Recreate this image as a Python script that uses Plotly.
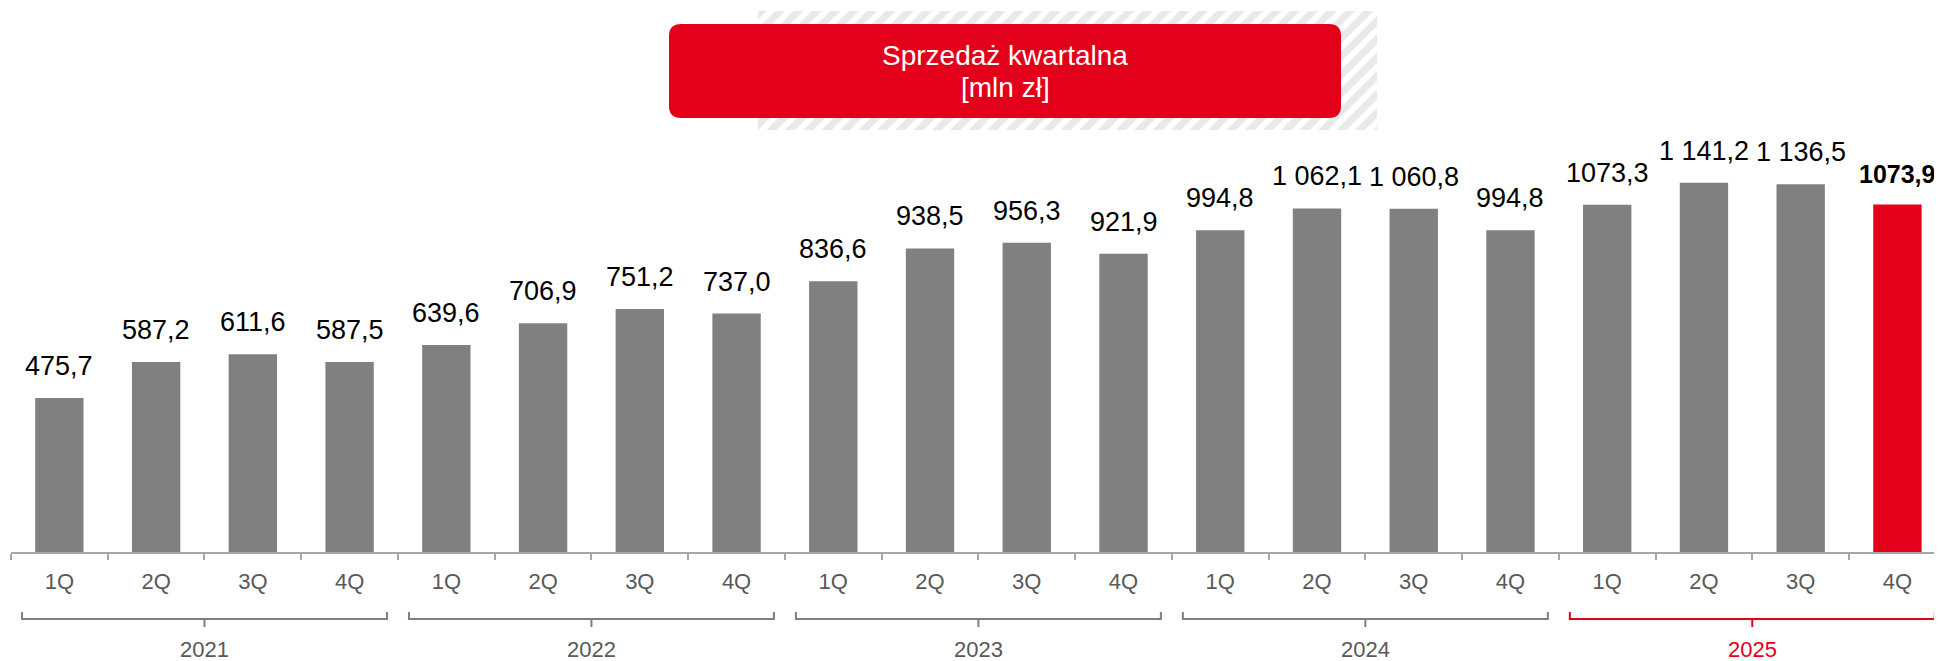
import plotly.graph_objects as go

# ---------------- data ----------------
years = ["2021", "2022", "2023", "2024", "2025"]
quarters = ["1Q", "2Q", "3Q", "4Q"]
sales = [475.7, 587.2, 611.6, 587.5,
         639.6, 706.9, 751.2, 737.0,
         836.6, 938.5, 956.3, 921.9,
         994.8, 1062.1, 1060.8, 994.8,
         1073.3, 1141.2, 1136.5, 1073.9]
value_labels = ["475,7", "587,2", "611,6", "587,5",
                "639,6", "706,9", "751,2", "737,0",
                "836,6", "938,5", "956,3", "921,9",
                "994,8", "1 062,1", "1 060,8", "994,8",
                "1073,3", "1 141,2", "1 136,5", "1073,9"]
title_lines = ["Sprzedaż kwartalna", "[mln zł]"]

# ---------------- layout geometry ----------------
OFF = 8                      # default page (body) margin of the html page
W, H = 1942 - OFF, 661 - OFF
AXIS_Y = 552                 # screen y of the category axis
ML, MR, MT = 11 - OFF, 0, 0
MB = H - (AXIS_Y - OFF)
PW = W - ML - MR
PH = H - MT - MB
CAT = 96.74                  # px per category
PXU = 0.3235                 # px per unit of value

GRAY = "#808080"
RED = "#e2001a"
AXIS = "#a6a6a6"
TXT = "#595959"
FONT = "Liberation Sans, Arial, sans-serif"


def px(X):
    """screen x -> paper x"""
    return (X - OFF - ML) / PW


def py(Y):
    """screen y -> paper y"""
    return (AXIS_Y - Y) / PH


xs = list(range(len(sales)))
tick_text = [q for _ in years for q in quarters]
colors = [GRAY] * (len(sales) - 1) + [RED]

fig = go.Figure()

# hatched background behind the title box (overlay axes in screen pixels)
hx0, hx1, hy0, hy1 = 758, 1377, 11, 130
fig.add_trace(go.Scatter(
    x=[hx0, hx1, hx1, hx0, hx0], y=[hy0, hy0, hy1, hy1, hy0],
    xaxis="x2", yaxis="y2", mode="lines", line=dict(width=0),
    fill="toself",
    fillpattern=dict(shape="/", fgcolor="#d4d4d4", bgcolor="white",
                     size=13, solidity=0.55),
    hoverinfo="skip", showlegend=False))

fig.add_trace(go.Bar(
    x=xs, y=sales, width=0.5,
    marker=dict(color=colors, line=dict(width=0)),
    hoverinfo="skip", showlegend=False))

annotations = []
for i, (v, lab) in enumerate(zip(sales, value_labels)):
    last = i == len(sales) - 1
    annotations.append(dict(
        x=i, y=v, xref="x", yref="y", showarrow=False,
        text=f"<b>{lab}</b>" if last else lab,
        yanchor="bottom", xanchor="center", yshift=15,
        font=dict(family=FONT, size=25 if last else 27, color="black")))

shapes = []
gap = 11 / CAT
y_line, y_hook, y_tick = py(619), py(612), py(627)
for k, yr in enumerate(years):
    c = RED if k == len(years) - 1 else "#7f7f7f"
    x0 = 4 * k - 0.5 + gap
    x1 = 4 * k + 3.5 - gap
    xc = 4 * k + 1.5
    shapes.append(dict(
        type="path", xref="x", yref="paper",
        path=f"M {x0},{y_hook} L {x0},{y_line} L {x1},{y_line} L {x1},{y_hook} "
             f"M {xc},{y_line} L {xc},{y_tick}",
        line=dict(color=c, width=2)))
    annotations.append(dict(
        x=xc, y=py(649), xref="x", yref="paper", showarrow=False,
        text=yr, xanchor="center", yanchor="middle",
        font=dict(family=FONT, size=22, color=c if k == len(years) - 1 else TXT)))

# red rounded title box
bx0, bx1, by0, by1, r = 669, 1341, 24, 118, 12
path = (f"M {px(bx0 + r)},{py(by0)} L {px(bx1 - r)},{py(by0)} "
        f"Q {px(bx1)},{py(by0)} {px(bx1)},{py(by0 + r)} "
        f"L {px(bx1)},{py(by1 - r)} Q {px(bx1)},{py(by1)} {px(bx1 - r)},{py(by1)} "
        f"L {px(bx0 + r)},{py(by1)} Q {px(bx0)},{py(by1)} {px(bx0)},{py(by1 - r)} "
        f"L {px(bx0)},{py(by0 + r)} Q {px(bx0)},{py(by0)} {px(bx0 + r)},{py(by0)} Z")
shapes.append(dict(type="path", xref="paper", yref="paper", path=path,
                   fillcolor=RED, line=dict(width=0), layer="above"))
for line_text, cy in zip(title_lines, [55, 87]):
    annotations.append(dict(
        x=px((bx0 + bx1) / 2), y=py(cy), xref="paper", yref="paper",
        showarrow=False, text=line_text,
        xanchor="center", yanchor="middle",
        font=dict(family=FONT, size=28, color="white")))

fig.update_layout(
    width=W, height=H,
    margin=dict(l=ML, r=MR, t=MT, b=MB, pad=0),
    paper_bgcolor="white", plot_bgcolor="white",
    showlegend=False,
    xaxis=dict(
        range=[-0.5, -0.5 + PW / CAT],
        tickmode="array", tickvals=xs, ticktext=tick_text,
        ticks="", ticklabelstandoff=9,
        showline=True, linecolor=AXIS, linewidth=2,
        showgrid=False, zeroline=False,
        tickfont=dict(family=FONT, size=22, color=TXT),
        minor=dict(tickmode="array", tickvals=[i - 0.5 for i in range(len(sales) + 1)],
                   ticks="outside", ticklen=6, tickwidth=2, tickcolor=AXIS,
                   showgrid=False),
        fixedrange=True),
    yaxis=dict(range=[0, PH / PXU], visible=False, fixedrange=True),
    xaxis2=dict(overlaying="x", anchor="y2", range=[ML + OFF, W + OFF],
                visible=False, fixedrange=True),
    yaxis2=dict(overlaying="y", anchor="x2", range=[AXIS_Y, OFF],
                visible=False, fixedrange=True),
    annotations=annotations,
    shapes=shapes,
    bargap=0.5,
)

fig.write_html("out.html")
